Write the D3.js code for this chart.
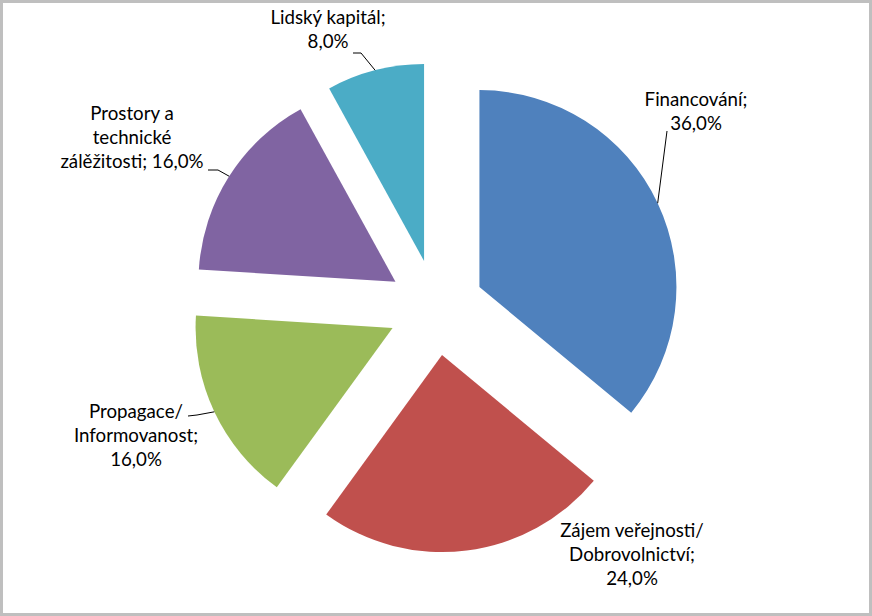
<!DOCTYPE html>
<html>
<head>
<meta charset="utf-8">
<script src="https://cdn.jsdelivr.net/npm/d3@7"></script>
<style>
  body { margin: 0; background: #fff; }
  svg text { font-family: Lato, "Open Sans", sans-serif; font-size: 18.7px; fill: #000; }
</style>
</head>
<body>
<svg id="chart" width="872" height="616"></svg>
<script>
// data
let categories = ["Financování", "Zájem veřejnosti/Dobrovolnictví", "Propagace/Informovanost", "Prostory a technické zálěžitosti", "Lidský kapitál"];
let values = [36.0, 24.0, 16.0, 16.0, 8.0];
let colors = ["#4F81BD", "#C0504D", "#9BBB59", "#8064A2", "#4BACC6"];

// label layout (manually placed like in the original)
let labelLines = [
  ["Financování;", "36,0%"],
  ["Zájem veřejnosti/", "Dobrovolnictví;", "24,0%"],
  ["Propagace/", "Informovanost;", "16,0%"],
  ["Prostory a", "technické", "zálěžitosti; 16,0%"],
  ["Lidský kapitál;", "8,0%"]
];
let labelXY = [[696, 106], [632, 537], [136, 418], [132, 120], [328, 24]];
let leaderStart = [[[667, 131]], null, [[188, 416], [197, 415]], [[208, 170], [218, 170]], [[353, 53], [361, 53]]];

let width = 872, height = 616;
let cx = 436, cy = 307.5, radius = 197, explode = 48;

let svg = d3.select("#chart");

svg.append("rect")
  .attr("x", 1.5).attr("y", 1.5)
  .attr("width", width - 3).attr("height", height - 3)
  .attr("fill", "#fff")
  .attr("stroke", "#bfbfbf")
  .attr("stroke-width", 3);

let pie = d3.pie().sort(null).value(d => d)(values);
let arc = d3.arc().innerRadius(0).outerRadius(radius);

let offset = (d) => {
  let mid = (d.startAngle + d.endAngle) / 2;
  return [cx + explode * Math.sin(mid), cy - explode * Math.cos(mid)];
};

svg.selectAll("path.slice")
  .data(pie)
  .enter()
  .append("path")
  .attr("class", "slice")
  .attr("transform", d => "translate(" + offset(d) + ")")
  .attr("d", arc)
  .attr("fill", (d, i) => colors[i]);

// leader lines end at the middle of each slice's arc
pie.forEach((d, i) => {
  if (!leaderStart[i]) return;
  let mid = (d.startAngle + d.endAngle) / 2;
  let o = offset(d);
  let end = [o[0] + radius * Math.sin(mid), o[1] - radius * Math.cos(mid)];
  let pts = leaderStart[i].concat([end]);
  svg.append("path")
    .attr("d", d3.line()(pts))
    .attr("fill", "none")
    .attr("stroke", "#000")
    .attr("stroke-width", 1);
});

labelLines.forEach((lines, i) => {
  let t = svg.append("text")
    .attr("text-anchor", "middle")
    .attr("x", labelXY[i][0])
    .attr("y", labelXY[i][1]);
  lines.forEach((ln, j) => {
    t.append("tspan")
      .attr("x", labelXY[i][0])
      .attr("dy", j === 0 ? 0 : 23.8)
      .text(ln);
  });
});
</script>
</body>
</html>
